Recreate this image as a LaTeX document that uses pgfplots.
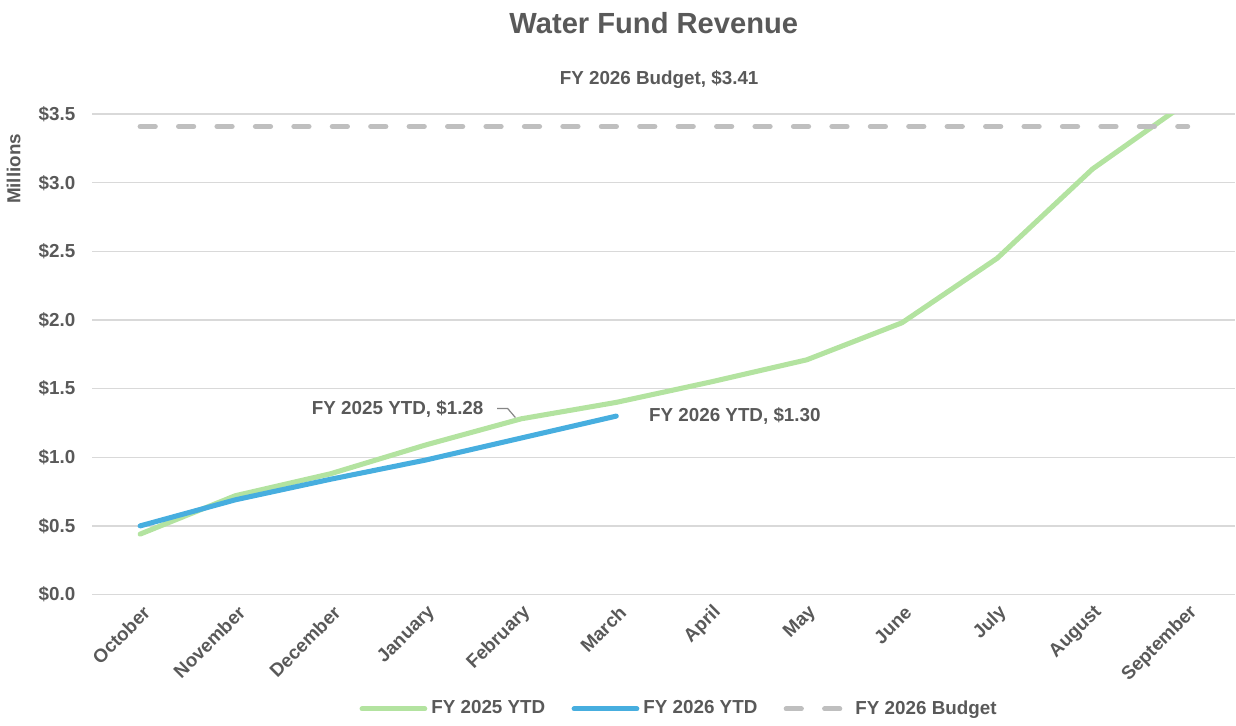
\documentclass[border={0pt 0pt 0pt 3pt}]{standalone}
\usepackage{pgfplots}
\pgfplotsset{compat=1.18}
\usepackage{fontspec}
\setmainfont{Liberation Sans}
\definecolor{txt}{HTML}{595959}
\definecolor{fy25}{HTML}{B3E3A0}
\definecolor{fy26}{HTML}{47AEDF}
\definecolor{bud}{HTML}{BFBFBF}
\definecolor{gridc}{HTML}{D9D9D9}

\begin{document}
\begin{tikzpicture}[font=\bfseries\fontsize{9.3}{11}\selectfont, text=txt]
\begin{axis}[
  scale only axis, width=565pt, height=237.5pt,
  xmin=-0.5, xmax=11.5, ymin=0, ymax=3.5,
  axis line style={draw=none}, tick style={draw=none},
  ymajorgrids, xmajorgrids=false, major grid style={draw=gridc, line width=0.7pt},
  ytick={0,0.5,...,3.5},
  yticklabels={\$0.0,\$0.5,\$1.0,\$1.5,\$2.0,\$2.5,\$3.0,\$3.5},
  xtick={0,...,11},
  xticklabels={October,November,December,January,February,March,April,May,June,July,August,September},
  x tick label style={rotate=45, anchor=east, xshift=0.5pt, yshift=-7.5pt, font=\bfseries\fontsize{9.3}{11}\selectfont, text=txt},
  y tick label style={xshift=-5pt, font=\bfseries\fontsize{9.3}{11}\selectfont, text=txt},
  /pgf/number format/assume math mode=true,
  clip mode=individual,
  title={Water Fund Revenue},
  title style={at={(0.5,1)}, anchor=south, yshift=30pt, xshift=-5pt, font=\bfseries\fontsize{14.4}{16}\selectfont, text=txt},
  legend columns=3,
  legend style={at={(0.5,-0.238)}, anchor=center, xshift=8pt, draw=none, fill=none,
    font=\bfseries\fontsize{9.3}{11}\selectfont, text=txt,
    /tikz/every odd column/.append style={column sep=0pt},
    /tikz/every even column/.append style={column sep=11pt}},
  legend image code/.code={\draw[#1] (0pt,0pt) -- (31pt,0pt);},
]
\addplot[fy25, line width=2.5pt, line join=round, line cap=round] coordinates {
  (0,0.44) (1,0.72) (2,0.88) (3,1.09) (4,1.28) (5,1.40)
  (6,1.55) (7,1.71) (8,1.98) (9,2.45) (10,3.10) (11,3.59)};
\addlegendentry{FY 2025 YTD}
\addplot[fy26, line width=2.5pt, line join=round, line cap=round] coordinates {
  (0,0.50) (1,0.69) (2,0.84) (3,0.98) (4,1.14) (5,1.30)};
\addlegendentry{FY 2026 YTD}
\addplot[bud, line width=2.5pt, line cap=round, dash pattern=on 7.5pt off 11.5pt] coordinates {
  (0,3.41) (1,3.41) (2,3.41) (3,3.41) (4,3.41) (5,3.41)
  (6,3.41) (7,3.41) (8,3.41) (9,3.41) (10,3.41) (11,3.41)};
\addlegendentry{FY 2026 Budget}

\node[anchor=center, text=txt] at (axis cs:5.45,3.75) {FY 2026 Budget, \$3.41};
\node[anchor=east, text=txt] at (axis cs:3.68,1.35) {FY 2025 YTD, \$1.28};
\node[anchor=west, text=txt] at (axis cs:5.27,1.30) {FY 2026 YTD, \$1.30};
\draw[bud!70!black, line width=0.6pt] (axis cs:3.75,1.355) -- (axis cs:3.86,1.355) -- (axis cs:3.94,1.29);
\node[rotate=90, text=txt, font=\bfseries\fontsize{9.3}{11}\selectfont] at (rel axis cs:-0.069,0.886) {Millions};
\end{axis}
\end{tikzpicture}
\end{document}
